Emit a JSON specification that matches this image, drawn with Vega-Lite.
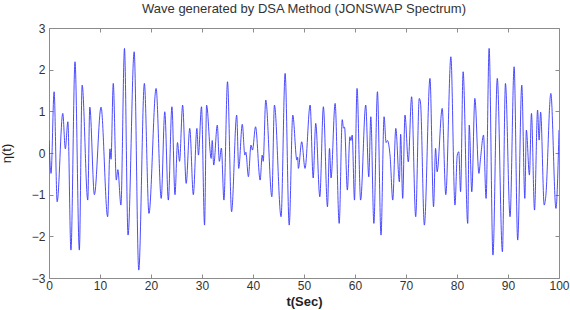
{
  "$schema": "https://vega.github.io/schema/vega-lite/v6.json",
  "width": 510,
  "height": 250,
  "autosize": "none",
  "padding": {"left": 49, "top": 28, "right": 11, "bottom": 32},
  "background": "white",
  "config": {
    "view": {"stroke": null},
    "font": "Liberation Sans",
    "axis": {"grid": false, "domainColor": "#8c8c8c", "tickColor": "#8c8c8c", "labelColor": "#333333", "labelFont": "Liberation Sans", "labelFontSize": 12, "titleFont": "Liberation Sans", "titleColor": "#222222"}
  },
  "title": {"text": "Wave generated by DSA Method (JONSWAP Spectrum)", "font": "Liberation Sans", "fontSize": 13, "fontWeight": "normal", "color": "#333333", "offset": 6, "anchor": "middle"},
  "data": {"values": [
    {"t":0,"v":0.3},{"t":0.4,"v":-0.49},{"t":1.0,"v":1.47},{"t":1.6,"v":-1.17},{"t":2.7,"v":0.95},{"t":3.2,"v":0.1},{"t":3.7,"v":0.75},{"t":4.3,"v":-2.33},{"t":5.1,"v":2.19},{"t":5.95,"v":-2.33},{"t":6.5,"v":1.63},{"t":7.6,"v":-1.13},{"t":8.0,"v":1.1},{"t":8.9,"v":-1.0},{"t":10.2,"v":1.1},{"t":11.5,"v":-1.53},{"t":11.96,"v":0.1},{"t":12.16,"v":-0.15},{"t":12.6,"v":1.67},{"t":13.2,"v":-0.65},{"t":13.5,"v":-0.4},{"t":14.1,"v":-1.25},{"t":14.8,"v":2.51},{"t":15.5,"v":-1.97},{"t":16.7,"v":2.43},{"t":17.6,"v":-2.81},{"t":18.7,"v":1.67},{"t":19.6,"v":-1.45},{"t":21.0,"v":1.55},{"t":22.0,"v":-1.09},{"t":22.7,"v":0.99},{"t":23.4,"v":-1.13},{"t":24.1,"v":1.11},{"t":24.7,"v":-1.0},{"t":25.2,"v":0.25},{"t":25.6,"v":-0.2},{"t":26.2,"v":1.15},{"t":26.9,"v":-0.73},{"t":27.6,"v":0.59},{"t":28.3,"v":-1.0},{"t":29.0,"v":0.59},{"t":29.3,"v":-0.05},{"t":29.9,"v":1.11},{"t":30.5,"v":-1.73},{"t":30.9,"v":1.15},{"t":31.8,"v":-0.13},{"t":32.0,"v":0.3},{"t":32.3,"v":-0.29},{"t":33.0,"v":0.67},{"t":33.4,"v":-0.2},{"t":33.8,"v":0.12},{"t":34.3,"v":-1.13},{"t":35.0,"v":1.71},{"t":35.8,"v":-1.41},{"t":36.8,"v":0.91},{"t":37.2,"v":-0.37},{"t":37.9,"v":0.69},{"t":38.4,"v":-0.05},{"t":38.6,"v":0.02},{"t":39.1,"v":-0.57},{"t":39.6,"v":0.19},{"t":39.9,"v":0.07},{"t":40.5,"v":0.63},{"t":41.4,"v":-0.65},{"t":41.8,"v":-0.05},{"t":42.0,"v":-0.2},{"t":42.5,"v":1.27},{"t":43.7,"v":-1.05},{"t":44.2,"v":1.15},{"t":45.5,"v":-1.53},{"t":46.3,"v":1.91},{"t":47.1,"v":-1.73},{"t":47.8,"v":0.91},{"t":48.6,"v":-0.17},{"t":48.75,"v":-0.1},{"t":48.9,"v":-0.37},{"t":49.55,"v":0.27},{"t":50.2,"v":-0.37},{"t":51.2,"v":1.15},{"t":51.8,"v":-0.6},{"t":52.3,"v":0.71},{"t":53.1,"v":-1.05},{"t":53.8,"v":1.11},{"t":54.6,"v":-1.29},{"t":55.0,"v":0.11},{"t":55.3,"v":-0.6},{"t":56.1,"v":1.19},{"t":56.9,"v":-1.69},{"t":57.5,"v":0.8},{"t":57.75,"v":0.6},{"t":57.95,"v":0.62},{"t":58.5,"v":-0.89},{"t":59.0,"v":0.39},{"t":59.2,"v":0.3},{"t":59.45,"v":0.43},{"t":59.9,"v":-1.13},{"t":60.4,"v":1.55},{"t":61.1,"v":-1.13},{"t":62.1,"v":1.15},{"t":62.7,"v":-0.57},{"t":63.1,"v":0.87},{"t":63.7,"v":-1.69},{"t":64.4,"v":1.47},{"t":65.1,"v":-1.97},{"t":65.7,"v":0.87},{"t":66.1,"v":0.25},{"t":66.35,"v":0.3},{"t":66.9,"v":-0.1},{"t":67.4,"v":-1.13},{"t":68.0,"v":0.59},{"t":68.7,"v":-0.69},{"t":68.95,"v":0.45},{"t":69.35,"v":-1.09},{"t":69.8,"v":0.91},{"t":70.45,"v":-0.21},{"t":71.1,"v":1.35},{"t":71.9,"v":-1.53},{"t":72.6,"v":1.31},{"t":72.85,"v":1.2},{"t":73.6,"v":-1.73},{"t":74.7,"v":1.79},{"t":75.4,"v":-1.29},{"t":75.8,"v":0.11},{"t":76.1,"v":-0.45},{"t":77.1,"v":1.07},{"t":77.8,"v":-1.0},{"t":78.8,"v":2.31},{"t":79.6,"v":-1.25},{"t":80.05,"v":-0.05},{"t":80.35,"v":0.03},{"t":80.7,"v":-0.93},{"t":81.2,"v":1.95},{"t":82.1,"v":-1.69},{"t":82.4,"v":0.67},{"t":82.9,"v":-0.93},{"t":83.5,"v":1.31},{"t":84.3,"v":-0.49},{"t":84.6,"v":-0.15},{"t":85.2,"v":0.43},{"t":85.7,"v":-1.09},{"t":86.3,"v":2.51},{"t":87.05,"v":-2.45},{"t":87.9,"v":1.79},{"t":88.9,"v":-2.37},{"t":89.5,"v":1.67},{"t":90.4,"v":-1.53},{"t":91.2,"v":2.07},{"t":91.9,"v":-2.09},{"t":92.7,"v":1.63},{"t":93.3,"v":-1.09},{"t":93.6,"v":0.55},{"t":94.2,"v":-0.53},{"t":94.6,"v":0.95},{"t":95.2,"v":-1.37},{"t":95.8,"v":1.03},{"t":96.1,"v":0.31},{"t":96.4,"v":0.98},{"t":97.1,"v":-1.25},{"t":97.4,"v":-1.05},{"t":98.4,"v":1.43},{"t":99.4,"v":-1.33},{"t":100,"v":0.55}
  ]},
  "layer": [
    {
      "mark": {"type": "line", "color": "#3838ff", "strokeWidth": 0.9, "interpolate": "monotone", "clip": true},
      "encoding": {
        "x": {"field": "t", "type": "quantitative", "scale": {"domain": [0, 100], "nice": false, "zero": false},
              "axis": {"orient": "bottom", "values": [0,10,20,30,40,50,60,70,80,90,100], "tickSize": -4, "labelPadding": 6, "labelFlush": false, "title": "t(Sec)", "titleFontSize": 13, "titleFontWeight": "bold", "titlePadding": 4}},
        "y": {"field": "v", "type": "quantitative", "scale": {"domain": [-3, 3], "nice": false, "zero": false},
              "axis": {"orient": "left", "values": [-3,-2,-1,0,1,2,3], "format": "d", "tickSize": -4, "labelPadding": 8, "labelFlush": false, "title": "η(t)", "titleFontSize": 13, "titleFontWeight": "normal", "titlePadding": 18}}
      }
    },
    {
      "mark": {"type": "line", "opacity": 0},
      "encoding": {
        "x": {"field": "t", "type": "quantitative", "scale": {"domain": [0, 100], "nice": false, "zero": false},
              "axis": {"orient": "top", "values": [0,10,20,30,40,50,60,70,80,90,100], "tickSize": -4, "labels": false, "title": null}},
        "y": {"field": "v", "type": "quantitative", "scale": {"domain": [-3, 3], "nice": false, "zero": false},
              "axis": {"orient": "right", "values": [-3,-2,-1,0,1,2,3], "tickSize": -4, "labels": false, "title": null}}
      }
    }
  ],
  "resolve": {"axis": {"x": "independent", "y": "independent"}}
}
